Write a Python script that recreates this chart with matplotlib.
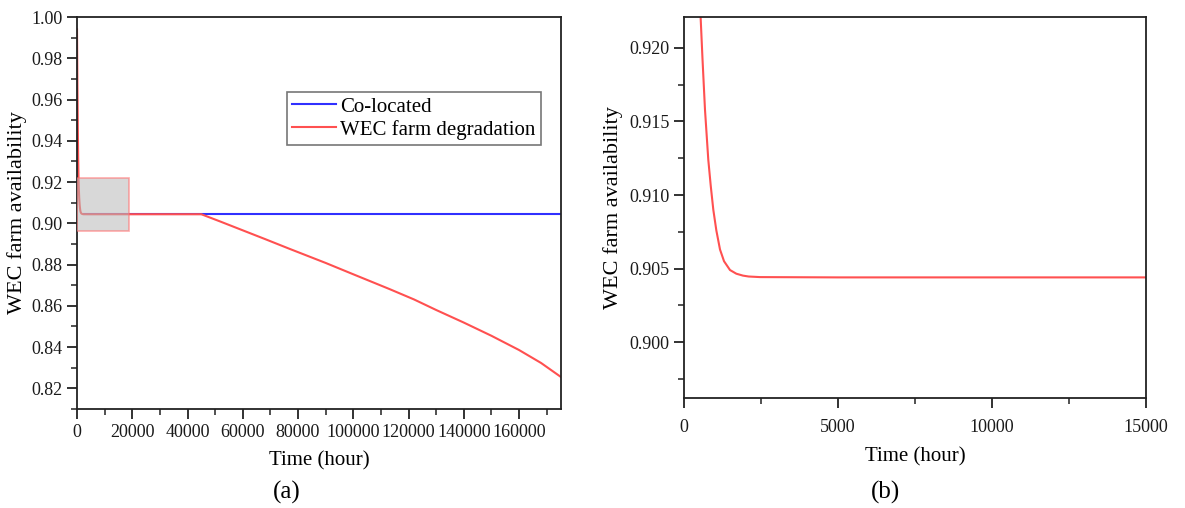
import numpy as np
import matplotlib
matplotlib.use('Agg')
import matplotlib.pyplot as plt
from matplotlib.patches import Rectangle
from matplotlib.ticker import MultipleLocator, FormatStrFormatter

plt.rcParams['font.family'] = ['Liberation Serif', 'DejaVu Serif']

# early transient (hours, availability)
t_early = [0, 150, 300, 420, 542, 600, 682, 789, 870, 952, 1050, 1169, 1300, 1494, 1700, 1916, 2100, 2468,
           5000, 10000, 15000, 45000]
a_early = [0.994, 0.966, 0.945, 0.932, 0.9220, 0.9193, 0.9158, 0.9124, 0.9106, 0.9090, 0.9076, 0.9063,
           0.9055, 0.90490, 0.90465, 0.90452, 0.90446, 0.90442, 0.90440, 0.90440, 0.90440, 0.90440]

# degradation branch
t_degr = [52000, 60000, 68000, 77000, 90000, 100000, 113000, 122000, 130000, 140000, 150000, 160000, 168000, 175200]
a_degr = [0.9008, 0.8966, 0.8924, 0.8876, 0.8808, 0.8753, 0.8682, 0.8631, 0.8580, 0.8519, 0.8455, 0.8386,
          0.8323, 0.8255]

# co-located farm keeps the steady availability
t_coloc = [2468, 45000, 175200]
a_coloc = [0.90440, 0.90440, 0.90440]

t_wec = t_early + t_degr
a_wec = a_early + a_degr

zoom_box = (0, 0.8962, 18800, 0.9219)  # x0, y0, x1, y1

blue = '#3030ff'
red = '#ff5050'
txt = '#1a1a1a'

fig = plt.figure(figsize=(11.85, 5.08), dpi=100)
ax1 = fig.add_axes([0.065, 0.1949, 0.4084, 0.7716])
ax2 = fig.add_axes([0.5772, 0.2165, 0.3899, 0.75])

ax1.plot(t_coloc, a_coloc, color=blue, lw=1.5, label='Co-located')
ax1.plot(t_wec, a_wec, color=red, lw=1.5, label='WEC farm degradation')
ax1.add_patch(Rectangle((zoom_box[0], zoom_box[1]), zoom_box[2] - zoom_box[0], zoom_box[3] - zoom_box[1],
                        facecolor=(0.72, 0.72, 0.72, 0.55), edgecolor=(1, 0.45, 0.45, 0.6), lw=1.2, zorder=3))
ax1.set_xlim(0, 175200)
ax1.set_ylim(0.81, 1.00)
ax1.xaxis.set_major_locator(MultipleLocator(20000))
ax1.xaxis.set_minor_locator(MultipleLocator(10000))
ax1.yaxis.set_major_locator(MultipleLocator(0.02))
ax1.yaxis.set_minor_locator(MultipleLocator(0.01))
ax1.yaxis.set_major_formatter(FormatStrFormatter('%.2f'))
ax1.set_xlabel('Time (hour)', fontsize=15, labelpad=8)
ax1.set_ylabel('WEC farm availability', fontsize=16, labelpad=3)
leg = ax1.legend(loc='upper left', bbox_to_anchor=(0.434, 0.809), fontsize=15, frameon=True, fancybox=False,
                 borderaxespad=0, handlelength=2.1, handletextpad=0.2, labelspacing=0.15, borderpad=0.25)
leg.get_frame().set_edgecolor('#555555')
leg.get_frame().set_linewidth(1.2)

ax2.plot(t_wec, a_wec, color=red, lw=1.5)
ax2.set_xlim(0, 15000)
ax2.set_ylim(0.8962, 0.9221)
ax2.xaxis.set_major_locator(MultipleLocator(5000))
ax2.xaxis.set_minor_locator(MultipleLocator(2500))
ax2.yaxis.set_major_locator(MultipleLocator(0.005))
ax2.yaxis.set_minor_locator(MultipleLocator(0.0025))
ax2.yaxis.set_major_formatter(FormatStrFormatter('%.3f'))
ax2.set_xlabel('Time (hour)', fontsize=15, labelpad=8)
ax2.set_ylabel('WEC farm availability', fontsize=16, labelpad=4)

for ax in (ax1, ax2):
    for s in ax.spines.values():
        s.set_linewidth(1.3)
        s.set_color('#222222')
    ax.tick_params(which='major', direction='out', length=7, width=1.3, labelsize=13, colors='#222222',
                   labelcolor=txt)
    ax.tick_params(which='minor', direction='out', length=4, width=1.1, colors='#222222')
ax2.tick_params(axis='x', which='major', pad=8)

fig.text(0.242, 0.031, '(a)', fontsize=18, ha='center', va='center')
fig.text(0.747, 0.031, '(b)', fontsize=18, ha='center', va='center')

fig.savefig('out.png', dpi=100)
